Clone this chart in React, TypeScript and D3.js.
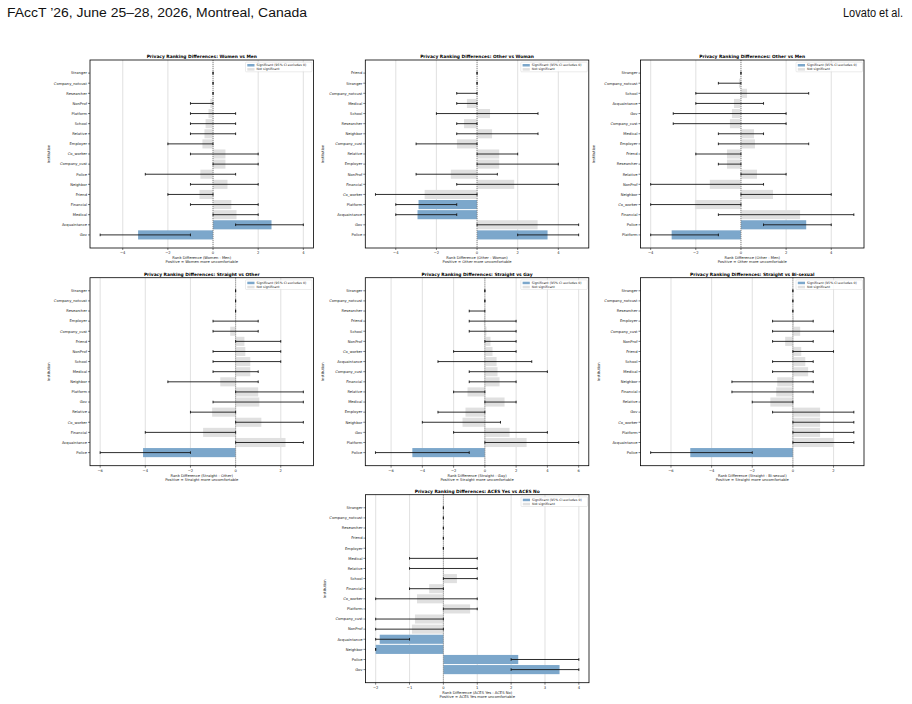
import * as d3 from 'd3';

// Women vs Men
const womenMenInstitutions = ['Stranger', 'Company_notcust', 'Researcher', 'NonProf', 'Platform', 'School', 'Relative', 'Employer', 'Co_worker', 'Company_cust', 'Police', 'Neighbor', 'Friend', 'Financial', 'Medical', 'Acquaintance', 'Gov'];
const womenMenDiff = [0, 0, 0, -0.12, -0.2, -0.33, -0.38, -0.47, 0.55, 0.55, -0.56, 0.64, -0.6, 0.81, 1.04, 2.59, -3.32];
const womenMenLow = [0, 0, 0, -1, -1, -1, -1, -2, -1, 0, -3, -1, -2, -1, 0, 1, -5];
const womenMenHigh = [0, 0, 0, 0, 1, 1, 1, 0, 2, 2, 1, 2, 0, 2, 2, 4, -1];

// Other vs Woman
const otherWomanInstitutions = ['Friend', 'Stranger', 'Company_notcust', 'Medical', 'School', 'Researcher', 'Neighbor', 'Company_cust', 'Relative', 'Employer', 'NonProf', 'Financial', 'Co_worker', 'Platform', 'Acquaintance', 'Gov', 'Police'];
const otherWomanDiff = [0, 0, 0, -0.5, 0.64, -0.64, 0.74, -0.99, 1.09, 1.09, -1.29, 1.83, -2.58, -2.88, -2.93, 2.98, 3.47];
const otherWomanLow = [0, 0, -1, -1, -2, -1, -1, -3, 0, 0, -3, -1, -5, -4, -4, 0, 2];
const otherWomanHigh = [0, 0, 0, 0, 3, 0, 3, 0, 2, 4, 1, 4, 0, -1, -1, 5, 5];

// Other vs Men
const otherMenInstitutions = ['Stranger', 'Company_notcust', 'School', 'Acquaintance', 'Gov', 'Company_cust', 'Medical', 'Employer', 'Friend', 'Researcher', 'Relative', 'NonProf', 'Neighbor', 'Co_worker', 'Financial', 'Police', 'Platform'];
const otherMenDiff = [0, -0.09, 0.27, -0.31, -0.4, -0.49, 0.58, 0.62, -0.62, -0.62, 0.71, -1.38, 1.42, -2.04, 2.62, 2.89, -3.07];
const otherMenLow = [0, -1, -2, -2, -3, -3, -1, -1, -2, -1, 0, -4, 0, -4, -1, 1, -4];
const otherMenHigh = [0, 0, 3, 1, 2, 2, 1, 3, 0, 0, 2, 1, 4, 0, 5, 4, -1];

// Straight vs Other
const straightOtherInstitutions = ['Stranger', 'Company_notcust', 'Researcher', 'Employer', 'Company_cust', 'Friend', 'NonProf', 'School', 'Medical', 'Neighbor', 'Platform', 'Gov', 'Relative', 'Co_worker', 'Financial', 'Acquaintance', 'Police'];
const straightOtherDiff = [0, 0, 0, 0, -0.24, 0.39, 0.43, 0.65, 0.65, -0.68, 1.0, 1.05, -1.04, 1.14, -1.44, 2.21, -4.1];
const straightOtherLow = [0, 0, 0, -1, -1, 0, -1, -1, -1, -3, 0, -1, -2, 0, -4, 0, -6];
const straightOtherHigh = [0, 0, 0, 1, 1, 2, 2, 2, 1, 1, 3, 3, 0, 3, 0, 3, -2];

// Straight vs Gay
const straightGayInstitutions = ['Stranger', 'Company_notcust', 'Researcher', 'Friend', 'School', 'NonProf', 'Co_worker', 'Acquaintance', 'Company_cust', 'Financial', 'Relative', 'Medical', 'Employer', 'Neighbor', 'Gov', 'Platform', 'Police'];
const straightGayDiff = [0, 0, 0, -0.06, 0.1, 0.36, 0.49, 0.75, 0.81, 0.94, -1.11, 1.26, -1.24, -1.43, 1.58, 2.67, -4.64];
const straightGayLow = [0, 0, -1, -1, -1, 0, -2, -3, -1, -1, -2, 0, -3, -4, -2, 0, -7];
const straightGayHigh = [0, 0, 0, 2, 2, 2, 2, 3, 4, 2, 0, 2, 0, 1, 4, 6, -1];

// Straight vs Bi-sexual
const straightBiInstitutions = ['Stranger', 'Company_notcust', 'Researcher', 'Employer', 'Company_cust', 'NonProf', 'Friend', 'School', 'Medical', 'Neighbor', 'Financial', 'Relative', 'Gov', 'Co_worker', 'Platform', 'Acquaintance', 'Police'];
const straightBiDiff = [0, 0, 0, 0.05, 0.36, -0.38, 0.41, 0.61, 0.75, -0.77, -0.82, -1.11, 1.34, 1.34, 1.34, 2.03, -5.05];
const straightBiLow = [0, 0, 0, -1, -1, -1, 0, -1, -1, -3, -3, -2, -1, 0, 0, 0, -7];
const straightBiHigh = [0, 0, 0, 1, 2, 1, 2, 1, 1, 1, 1, 0, 3, 3, 3, 3, -2];

// ACES Yes vs ACES No
const acesInstitutions = ['Stranger', 'Company_notcust', 'Researcher', 'Friend', 'Employer', 'Medical', 'Relative', 'School', 'Financial', 'Co_worker', 'Platform', 'Company_cust', 'NonProf', 'Acquaintance', 'Neighbor', 'Police', 'Gov'];
const acesDiff = [0, 0, 0, 0, 0, 0, 0, 0.4, -0.42, -0.78, 0.79, -0.84, -0.93, -1.88, -2.0, 2.21, 3.43];
const acesLow = [0, 0, 0, 0, 0, -1, -1, 0, -1, -2, 0, -2, -2, -2, -2, 2, 2];
const acesHigh = [0, 0, 0, 0, 0, 1, 1, 1, 0, 1, 1, 0, 0, -1, -2, 4, 4];

const FONT = '"DejaVu Sans", sans-serif';
const HEADER_FONT = '"Liberation Sans", sans-serif';
const SIG_COLOR = '#7ca7cb';
const NS_COLOR = '#e0e0e0';

type PanelSpec = {
  title: string;
  xLabel: string;
  xNote: string;
  institutions: string[];
  diff: number[];
  low: number[];
  high: number[];
  left: number;
  top: number;
  yLabelGap: number;
};

const W = 223.5;
const H = 188;

const panels: PanelSpec[] = [
  { title: 'Women vs Men', xLabel: 'Rank Difference (Women - Men)', xNote: 'Positive = Women more uncomfortable', institutions: womenMenInstitutions, diff: womenMenDiff, low: womenMenLow, high: womenMenHigh, left: 90, top: 60, yLabelGap: 40 },
  { title: 'Other vs Woman', xLabel: 'Rank Difference (Other - Woman)', xNote: 'Positive = Other more uncomfortable', institutions: otherWomanInstitutions, diff: otherWomanDiff, low: otherWomanLow, high: otherWomanHigh, left: 365.3, top: 60, yLabelGap: 41 },
  { title: 'Other vs Men', xLabel: 'Rank Difference (Other - Men)', xNote: 'Positive = Other more uncomfortable', institutions: otherMenInstitutions, diff: otherMenDiff, low: otherMenLow, high: otherMenHigh, left: 640.5, top: 60, yLabelGap: 46 },
  { title: 'Straight vs Other', xLabel: 'Rank Difference (Straight - Other)', xNote: 'Positive = Straight more uncomfortable', institutions: straightOtherInstitutions, diff: straightOtherDiff, low: straightOtherLow, high: straightOtherHigh, left: 90, top: 277.7, yLabelGap: 40 },
  { title: 'Straight vs Gay', xLabel: 'Rank Difference (Straight - Gay)', xNote: 'Positive = Straight more uncomfortable', institutions: straightGayInstitutions, diff: straightGayDiff, low: straightGayLow, high: straightGayHigh, left: 365.3, top: 277.7, yLabelGap: 41 },
  { title: 'Straight vs Bi-sexual', xLabel: 'Rank Difference (Straight - Bi-sexual)', xNote: 'Positive = Straight more uncomfortable', institutions: straightBiInstitutions, diff: straightBiDiff, low: straightBiLow, high: straightBiHigh, left: 640.5, top: 277.7, yLabelGap: 41 },
  { title: 'ACES Yes vs ACES No', xLabel: 'Rank Difference (ACES Yes - ACES No)', xNote: 'Positive = ACES Yes more uncomfortable', institutions: acesInstitutions, diff: acesDiff, low: acesLow, high: acesHigh, left: 365.5, top: 494.7, yLabelGap: 40 },
];

const Panel = ({ spec }: { spec: PanelSpec }) => {
  const { left, top } = spec;
  const lo = d3.min([...spec.low, ...spec.diff, 0])!;
  const hi = d3.max([...spec.high, ...spec.diff, 0])!;
  const pad = (hi - lo) * 0.05;
  const x = d3.scaleLinear().domain([lo - pad, hi + pad]).range([left, left + W]);
  const y = d3
    .scaleBand<string>()
    .domain(spec.institutions)
    .range([top, top + H])
    .paddingInner(0.1)
    .paddingOuter(0.845);
  const bw = y.bandwidth();
  const ticks = x.ticks(5);
  const fmt = d3.format('d');
  const bottom = top + H;
  const right = left + W;

  const rows = spec.institutions.map((name, i) => ({
    name,
    diff: spec.diff[i],
    low: spec.low[i],
    high: spec.high[i],
    sig: spec.low[i] > 0 || spec.high[i] < 0,
  }));

  return (
    <g fontFamily={FONT}>
      <text x={(left + right) / 2} y={top - 1.8} textAnchor="middle" fontSize={4.4} fontWeight="bold">
        {`Privacy Ranking Differences: ${spec.title}`}
      </text>
      {ticks.map((t) => (
        <line key={`g${t}`} x1={x(t)} x2={x(t)} y1={top} y2={bottom} stroke="#e3e3e3" strokeWidth={1.1} />
      ))}
      {rows.map((r) => (
        <rect
          key={`b${r.name}`}
          x={Math.min(x(0), x(r.diff))}
          y={y(r.name)!}
          width={Math.abs(x(r.diff) - x(0))}
          height={bw}
          fill={r.sig ? SIG_COLOR : NS_COLOR}
        />
      ))}
      <line x1={x(0)} x2={x(0)} y1={top} y2={bottom} stroke="#808080" strokeWidth={0.9} strokeDasharray="1,1" />
      {rows.map((r) => {
        const cy = y(r.name)! + bw / 2;
        return (
          <g key={`e${r.name}`} stroke="#111" strokeWidth={1} strokeOpacity={0.88}>
            <line x1={x(r.low)} x2={x(r.high)} y1={cy} y2={cy} />
            <line x1={x(r.low)} x2={x(r.low)} y1={cy - 1.3} y2={cy + 1.3} />
            <line x1={x(r.high)} x2={x(r.high)} y1={cy - 1.3} y2={cy + 1.3} />
          </g>
        );
      })}
      {rows.map((r) => {
        const cy = y(r.name)! + bw / 2;
        return (
          <g key={`t${r.name}`}>
            <line x1={left - 2} x2={left} y1={cy} y2={cy} stroke="#000" strokeWidth={0.5} />
            <text x={left - 3} y={cy} dy="0.35em" textAnchor="end" fontSize={3.7} fill="#222">
              {r.name}
            </text>
          </g>
        );
      })}
      {ticks.map((t) => (
        <g key={`x${t}`}>
          <line x1={x(t)} x2={x(t)} y1={bottom} y2={bottom + 2} stroke="#000" strokeWidth={0.5} />
          <text x={x(t)} y={bottom + 6} textAnchor="middle" fontSize={3.7} fill="#222">
            {fmt(t)}
          </text>
        </g>
      ))}
      <text x={(left + right) / 2} y={bottom + 10.8} textAnchor="middle" fontSize={3.7} fill="#222">
        {spec.xLabel}
      </text>
      <text x={(left + right) / 2} y={bottom + 15.3} textAnchor="middle" fontSize={3.7} fill="#222">
        {spec.xNote}
      </text>
      <text
        transform={`translate(${left - spec.yLabelGap},${(top + bottom) / 2}) rotate(-90)`}
        textAnchor="middle"
        fontSize={3.7}
        fill="#222"
      >
        Institution
      </text>
      <g transform={`translate(${right - 68},${top + 2.2})`}>
        <rect width={66.5} height={9.6} rx={0.8} fill="#fff" fillOpacity={0.85} stroke="#cfcfcf" strokeWidth={0.4} />
        <rect x={1.8} y={1.8} width={7.2} height={2.5} fill={SIG_COLOR} />
        <text x={11} y={3.05} dy="0.35em" fontSize={3.2} fill="#222">
          Significant (95% CI excludes 0)
        </text>
        <rect x={1.8} y={5.9} width={7.2} height={2.5} fill={NS_COLOR} />
        <text x={11} y={7.15} dy="0.35em" fontSize={3.2} fill="#222">
          Not significant
        </text>
      </g>
      <rect x={left} y={top} width={W} height={H} fill="none" stroke="#000" strokeWidth={0.8} />
    </g>
  );
};

export default function App() {
  return (
    <svg
      width={912}
      height={704}
      style={{ position: 'absolute', left: 0, top: 0, background: '#fff' }}
    >
      <text
        x={7}
        y={16.5}
        fontFamily={HEADER_FONT}
        fontSize={12.5}
        fill="#111"
        textLength={300}
        lengthAdjust="spacingAndGlyphs"
      >
        FAccT ’26, June 25–28, 2026, Montreal, Canada
      </text>
      <text
        x={903}
        y={16.5}
        textAnchor="end"
        fontFamily={HEADER_FONT}
        fontSize={12.5}
        fill="#111"
        textLength={60}
        lengthAdjust="spacingAndGlyphs"
      >
        Lovato et al.
      </text>
      {panels.map((p) => (
        <Panel key={p.title} spec={p} />
      ))}
    </svg>
  );
}
